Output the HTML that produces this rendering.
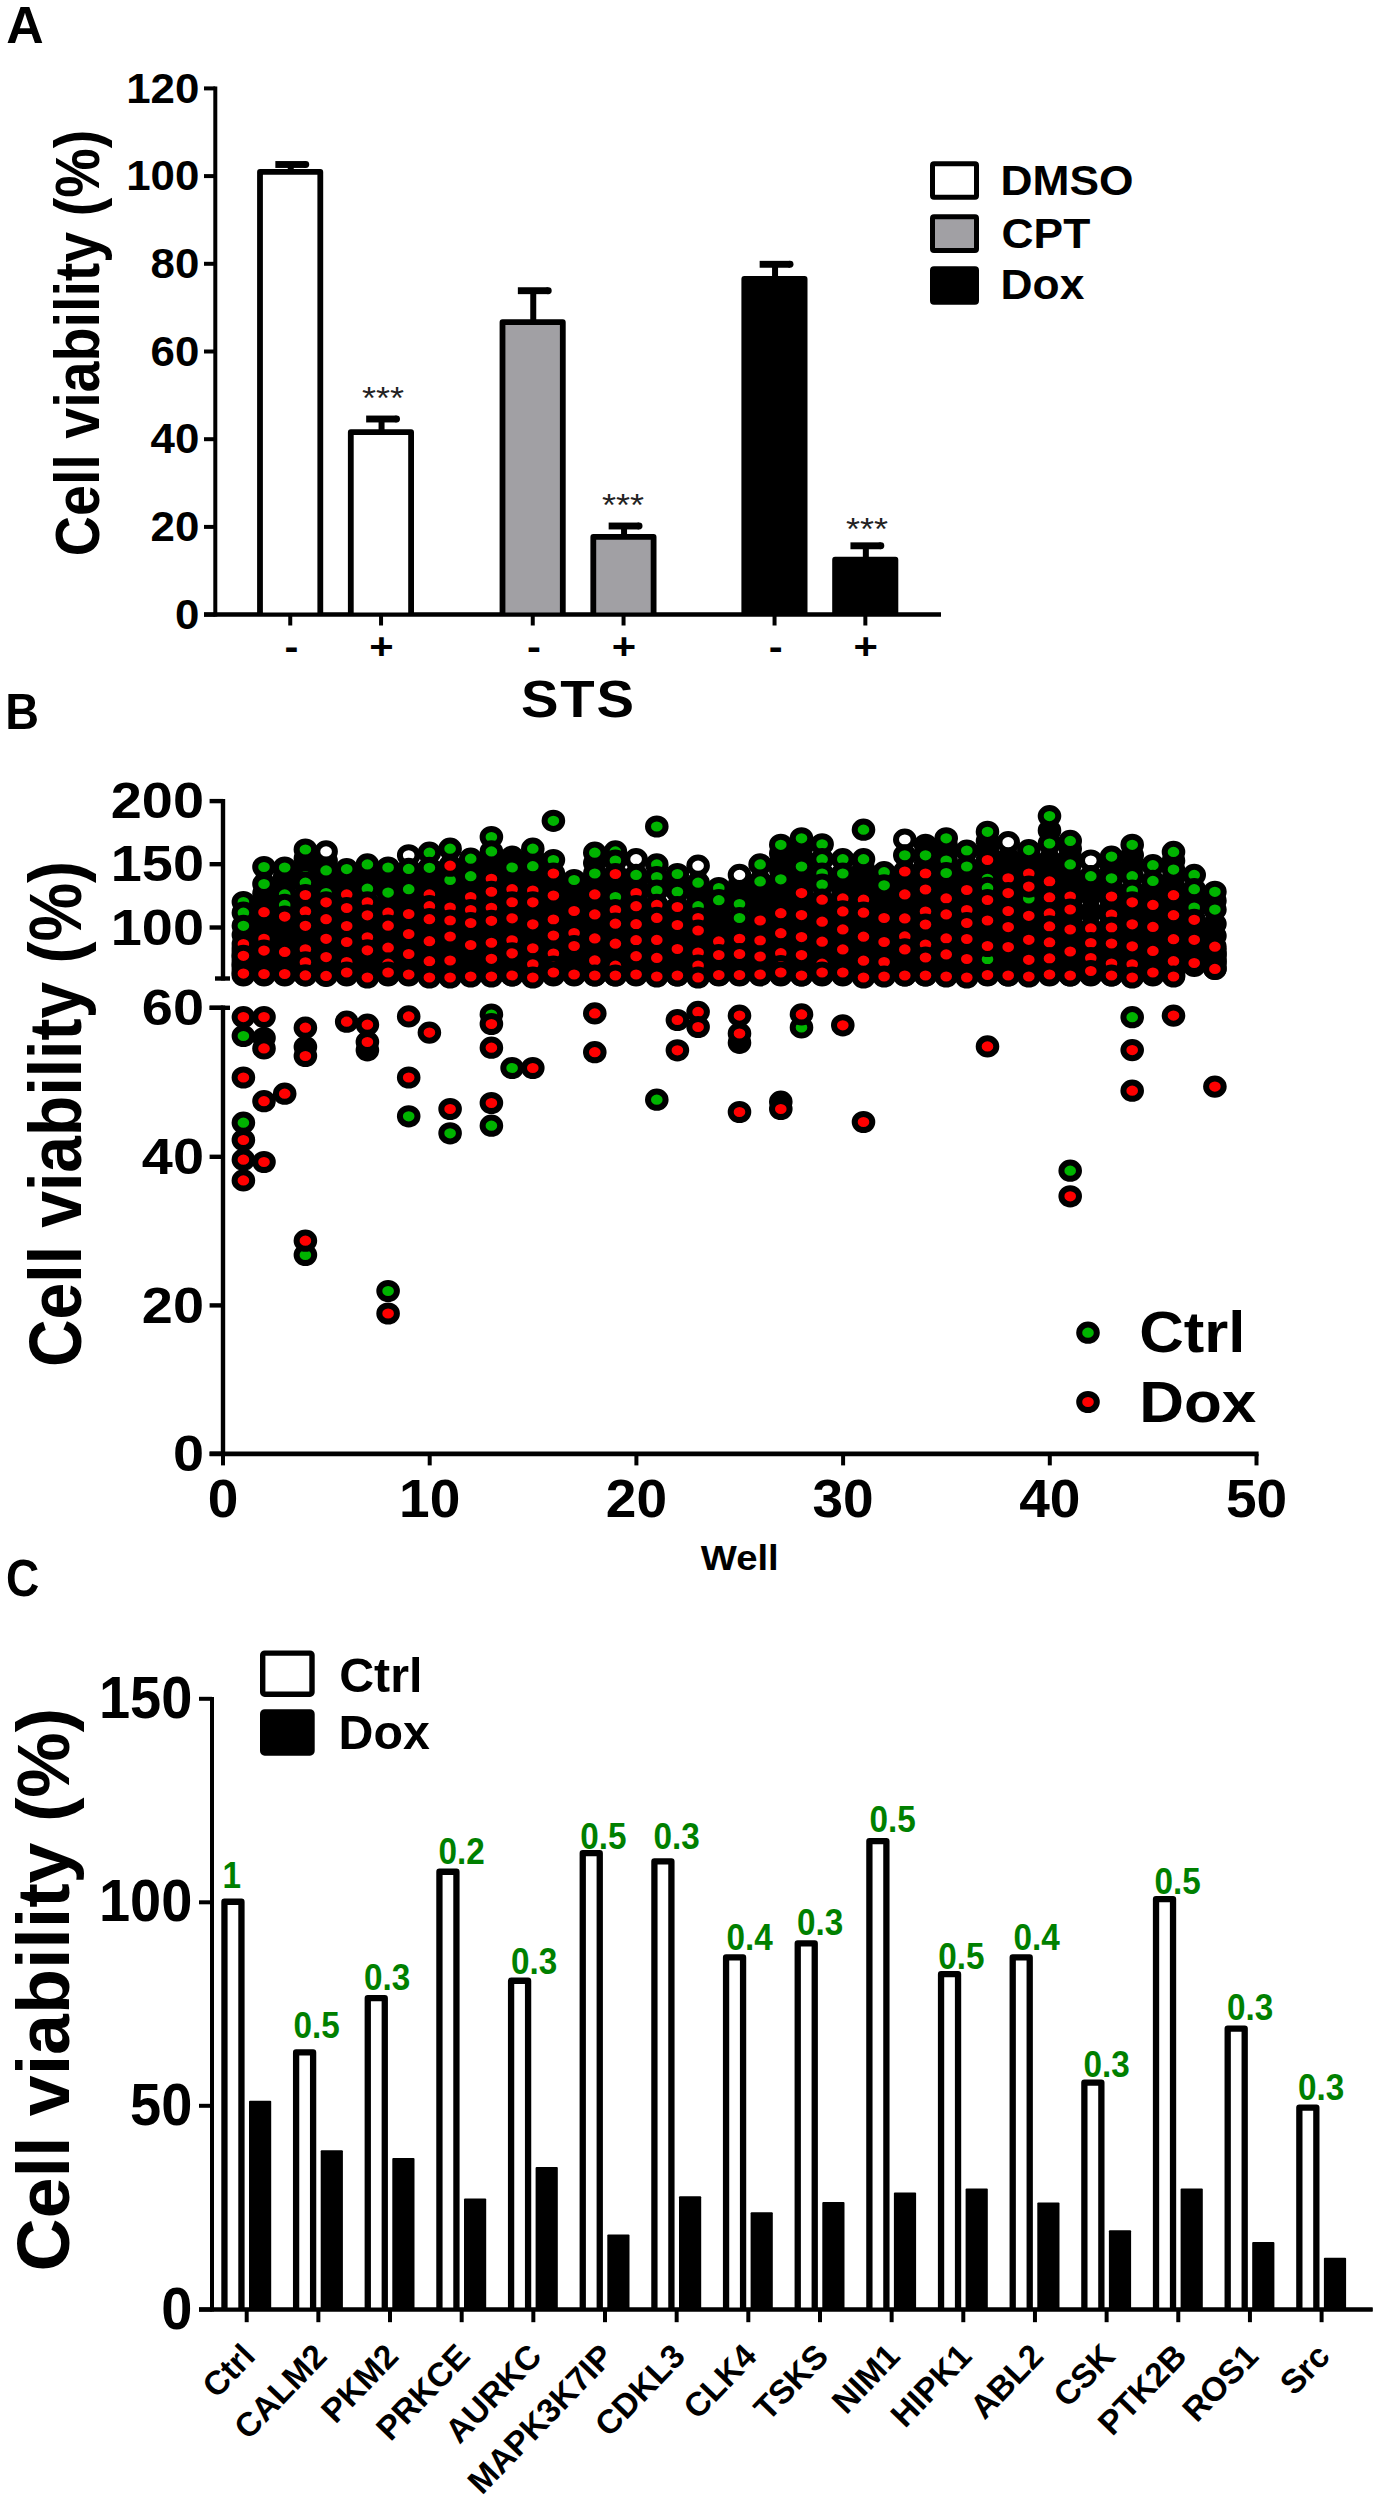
<!DOCTYPE html>
<html><head><meta charset="utf-8"><title>Figure</title>
<style>
html,body{margin:0;padding:0;background:#fff}
svg{display:block}
text{font-family:"Liberation Sans",Arial,sans-serif}
ellipse{rx:8.8px;ry:8.1px;stroke:#000;stroke-width:6px}
.r{fill:#ff0000} .g{fill:#00b400} .h{fill:#fff} .k{fill:#000}
</style></head><body>
<svg width="1379" height="2500" viewBox="0 0 1379 2500">
<rect x="0" y="0" width="1379" height="2500" fill="#fff"/>
<text transform="translate(6.30,42.60) scale(1.0000,1.0000)" font-size="51.8" font-weight="bold" text-anchor="start" fill="#000">A</text>
<text transform="translate(98.6,343.0) rotate(-90) scale(1,1.148)" font-size="55.6" font-weight="bold" text-anchor="middle">Cell viability (%)</text>
<line x1="215.30" y1="86.40" x2="215.30" y2="616.60" stroke="#000" stroke-width="4" stroke-linecap="butt"/>
<line x1="204.00" y1="614.60" x2="941.00" y2="614.60" stroke="#000" stroke-width="4" stroke-linecap="butt"/>
<line x1="204.00" y1="88.40" x2="215.30" y2="88.40" stroke="#000" stroke-width="4" stroke-linecap="butt"/>
<text transform="translate(199.30,102.60) scale(1.0200,1.0000)" font-size="43" font-weight="bold" text-anchor="end" fill="#000">120</text>
<line x1="204.00" y1="176.10" x2="215.30" y2="176.10" stroke="#000" stroke-width="4" stroke-linecap="butt"/>
<text transform="translate(199.30,190.30) scale(1.0200,1.0000)" font-size="43" font-weight="bold" text-anchor="end" fill="#000">100</text>
<line x1="204.00" y1="263.80" x2="215.30" y2="263.80" stroke="#000" stroke-width="4" stroke-linecap="butt"/>
<text transform="translate(199.30,278.00) scale(1.0200,1.0000)" font-size="43" font-weight="bold" text-anchor="end" fill="#000">80</text>
<line x1="204.00" y1="351.50" x2="215.30" y2="351.50" stroke="#000" stroke-width="4" stroke-linecap="butt"/>
<text transform="translate(199.30,365.70) scale(1.0200,1.0000)" font-size="43" font-weight="bold" text-anchor="end" fill="#000">60</text>
<line x1="204.00" y1="439.20" x2="215.30" y2="439.20" stroke="#000" stroke-width="4" stroke-linecap="butt"/>
<text transform="translate(199.30,453.40) scale(1.0200,1.0000)" font-size="43" font-weight="bold" text-anchor="end" fill="#000">40</text>
<line x1="204.00" y1="526.90" x2="215.30" y2="526.90" stroke="#000" stroke-width="4" stroke-linecap="butt"/>
<text transform="translate(199.30,541.10) scale(1.0200,1.0000)" font-size="43" font-weight="bold" text-anchor="end" fill="#000">20</text>
<line x1="204.00" y1="614.60" x2="215.30" y2="614.60" stroke="#000" stroke-width="4" stroke-linecap="butt"/>
<text transform="translate(199.30,628.80) scale(1.0200,1.0000)" font-size="43" font-weight="bold" text-anchor="end" fill="#000">0</text>
<line x1="290.75" y1="164.50" x2="290.75" y2="172.00" stroke="#000" stroke-width="6" stroke-linecap="butt"/>
<line x1="275.35" y1="164.50" x2="305.75" y2="164.50" stroke="#000" stroke-width="6.9" stroke-linecap="butt"/>
<circle cx="305.75" cy="164.50" r="3.45"/>
<path d="M260.00,614.60V171.90H320.30V614.60" fill="#fff" stroke="#000" stroke-width="5.8" stroke-linejoin="round"/>
<line x1="381.55" y1="419.00" x2="381.55" y2="432.30" stroke="#000" stroke-width="6" stroke-linecap="butt"/>
<line x1="366.15" y1="419.00" x2="396.55" y2="419.00" stroke="#000" stroke-width="6.9" stroke-linecap="butt"/>
<circle cx="396.55" cy="419.00" r="3.45"/>
<path d="M350.80,614.60V432.20H411.10V614.60" fill="#fff" stroke="#000" stroke-width="5.8" stroke-linejoin="round"/>
<line x1="533.25" y1="290.70" x2="533.25" y2="322.30" stroke="#000" stroke-width="6" stroke-linecap="butt"/>
<line x1="517.85" y1="290.70" x2="548.25" y2="290.70" stroke="#000" stroke-width="6.9" stroke-linecap="butt"/>
<circle cx="548.25" cy="290.70" r="3.45"/>
<path d="M502.50,614.60V322.20H562.80V614.60" fill="#a1a0a4" stroke="#000" stroke-width="5.8" stroke-linejoin="round"/>
<line x1="624.05" y1="526.00" x2="624.05" y2="537.00" stroke="#000" stroke-width="6" stroke-linecap="butt"/>
<line x1="608.65" y1="526.00" x2="639.05" y2="526.00" stroke="#000" stroke-width="6.9" stroke-linecap="butt"/>
<circle cx="639.05" cy="526.00" r="3.45"/>
<path d="M593.30,614.60V536.90H653.60V614.60" fill="#a1a0a4" stroke="#000" stroke-width="5.8" stroke-linejoin="round"/>
<line x1="775.05" y1="264.30" x2="775.05" y2="279.00" stroke="#000" stroke-width="6" stroke-linecap="butt"/>
<line x1="759.65" y1="264.30" x2="790.05" y2="264.30" stroke="#000" stroke-width="6.9" stroke-linecap="butt"/>
<circle cx="790.05" cy="264.30" r="3.45"/>
<path d="M744.30,614.60V278.90H804.60V614.60" fill="#000" stroke="#000" stroke-width="5.8" stroke-linejoin="round"/>
<line x1="865.85" y1="545.80" x2="865.85" y2="559.80" stroke="#000" stroke-width="6" stroke-linecap="butt"/>
<line x1="850.45" y1="545.80" x2="880.85" y2="545.80" stroke="#000" stroke-width="6.9" stroke-linecap="butt"/>
<circle cx="880.85" cy="545.80" r="3.45"/>
<path d="M835.10,614.60V559.70H895.40V614.60" fill="#000" stroke="#000" stroke-width="5.8" stroke-linejoin="round"/>
<line x1="204.00" y1="614.60" x2="941.00" y2="614.60" stroke="#000" stroke-width="4" stroke-linecap="butt"/>
<line x1="290.25" y1="614.60" x2="290.25" y2="625.50" stroke="#000" stroke-width="4" stroke-linecap="butt"/>
<text transform="translate(291.45,658.80) scale(1.1300,1.0000)" font-size="37" font-weight="bold" text-anchor="middle" fill="#000">-</text>
<line x1="381.05" y1="614.60" x2="381.05" y2="625.50" stroke="#000" stroke-width="4" stroke-linecap="butt"/>
<text transform="translate(381.35,658.80) scale(1.1300,1.0000)" font-size="37" font-weight="bold" text-anchor="middle" fill="#000">+</text>
<line x1="532.75" y1="614.60" x2="532.75" y2="625.50" stroke="#000" stroke-width="4" stroke-linecap="butt"/>
<text transform="translate(533.95,658.80) scale(1.1300,1.0000)" font-size="37" font-weight="bold" text-anchor="middle" fill="#000">-</text>
<line x1="623.55" y1="614.60" x2="623.55" y2="625.50" stroke="#000" stroke-width="4" stroke-linecap="butt"/>
<text transform="translate(623.85,658.80) scale(1.1300,1.0000)" font-size="37" font-weight="bold" text-anchor="middle" fill="#000">+</text>
<line x1="774.55" y1="614.60" x2="774.55" y2="625.50" stroke="#000" stroke-width="4" stroke-linecap="butt"/>
<text transform="translate(775.75,658.80) scale(1.1300,1.0000)" font-size="37" font-weight="bold" text-anchor="middle" fill="#000">-</text>
<line x1="865.35" y1="614.60" x2="865.35" y2="625.50" stroke="#000" stroke-width="4" stroke-linecap="butt"/>
<text transform="translate(865.65,658.80) scale(1.1300,1.0000)" font-size="37" font-weight="bold" text-anchor="middle" fill="#000">+</text>
<text transform="translate(383.00,408.70) scale(1.0000,0.8900)" font-size="36" font-weight="normal" text-anchor="middle" fill="#222">***</text>
<text transform="translate(623.00,515.50) scale(1.0000,0.8900)" font-size="36" font-weight="normal" text-anchor="middle" fill="#222">***</text>
<text transform="translate(867.00,539.70) scale(1.0000,0.8900)" font-size="36" font-weight="normal" text-anchor="middle" fill="#222">***</text>
<text transform="translate(578.4,717.3) scale(1.078,1)" font-size="52.2" font-weight="bold" text-anchor="middle" letter-spacing="1.7">STS</text>
<rect x="932.50" y="163.80" width="44.00" height="33.40" fill="#fff" stroke="#000" stroke-width="5" rx="1.5"/>
<rect x="932.50" y="216.70" width="44.00" height="33.80" fill="#a1a0a4" stroke="#000" stroke-width="5" rx="1.5"/>
<rect x="932.50" y="268.70" width="44.00" height="33.50" fill="#000" stroke="#000" stroke-width="5" rx="1.5"/>
<text transform="translate(1000.60,195.10) scale(1.0510,1.0000)" font-size="42.2" font-weight="bold" text-anchor="start" fill="#000">DMSO</text>
<text transform="translate(1001.60,248.20) scale(1.0510,1.0000)" font-size="42.2" font-weight="bold" text-anchor="start" fill="#000">CPT</text>
<text transform="translate(1000.60,299.40) scale(1.0510,1.0000)" font-size="42.2" font-weight="bold" text-anchor="start" fill="#000">Dox</text>
<text transform="translate(5.30,728.60) scale(0.9300,1.0000)" font-size="50.3" font-weight="bold" text-anchor="start" fill="#000">B</text>
<text transform="translate(81.4,1114) rotate(-90) scale(1,1.118)" font-size="66" font-weight="bold" text-anchor="middle">Cell viability (%)</text>
<line x1="223.00" y1="798.90" x2="223.00" y2="980.60" stroke="#000" stroke-width="4.4" stroke-linecap="butt"/>
<line x1="223.00" y1="1005.60" x2="223.00" y2="1455.80" stroke="#000" stroke-width="4.4" stroke-linecap="butt"/>
<line x1="209.60" y1="1453.80" x2="1258.60" y2="1453.80" stroke="#000" stroke-width="4.8" stroke-linecap="butt"/>
<line x1="215.00" y1="978.50" x2="230.00" y2="978.50" stroke="#000" stroke-width="4.4" stroke-linecap="butt"/>
<line x1="209.60" y1="1007.80" x2="230.00" y2="1007.80" stroke="#000" stroke-width="4.4" stroke-linecap="butt"/>
<line x1="209.60" y1="801.10" x2="223.00" y2="801.10" stroke="#000" stroke-width="4.4" stroke-linecap="butt"/>
<text transform="translate(204.00,818.30) scale(1.1090,1.0000)" font-size="50.4" font-weight="bold" text-anchor="end" fill="#000">200</text>
<line x1="209.60" y1="864.20" x2="223.00" y2="864.20" stroke="#000" stroke-width="4.4" stroke-linecap="butt"/>
<text transform="translate(204.00,881.40) scale(1.1090,1.0000)" font-size="50.4" font-weight="bold" text-anchor="end" fill="#000">150</text>
<line x1="209.60" y1="927.50" x2="223.00" y2="927.50" stroke="#000" stroke-width="4.4" stroke-linecap="butt"/>
<text transform="translate(204.00,944.70) scale(1.1090,1.0000)" font-size="50.4" font-weight="bold" text-anchor="end" fill="#000">100</text>
<line x1="209.60" y1="1007.80" x2="223.00" y2="1007.80" stroke="#000" stroke-width="4.4" stroke-linecap="butt"/>
<text transform="translate(204.00,1025.00) scale(1.1090,1.0000)" font-size="50.4" font-weight="bold" text-anchor="end" fill="#000">60</text>
<line x1="209.60" y1="1156.80" x2="223.00" y2="1156.80" stroke="#000" stroke-width="4.4" stroke-linecap="butt"/>
<text transform="translate(204.00,1174.00) scale(1.1090,1.0000)" font-size="50.4" font-weight="bold" text-anchor="end" fill="#000">40</text>
<line x1="209.60" y1="1305.40" x2="223.00" y2="1305.40" stroke="#000" stroke-width="4.4" stroke-linecap="butt"/>
<text transform="translate(204.00,1322.60) scale(1.1090,1.0000)" font-size="50.4" font-weight="bold" text-anchor="end" fill="#000">20</text>
<line x1="209.60" y1="1453.80" x2="223.00" y2="1453.80" stroke="#000" stroke-width="4.4" stroke-linecap="butt"/>
<text transform="translate(204.00,1471.00) scale(1.1090,1.0000)" font-size="50.4" font-weight="bold" text-anchor="end" fill="#000">0</text>
<line x1="223.00" y1="1453.80" x2="223.00" y2="1465.40" stroke="#000" stroke-width="4" stroke-linecap="butt"/>
<text transform="translate(223.00,1517.40) scale(1.0250,1.0000)" font-size="53.7" font-weight="bold" text-anchor="middle" fill="#000">0</text>
<line x1="429.70" y1="1453.80" x2="429.70" y2="1465.40" stroke="#000" stroke-width="4" stroke-linecap="butt"/>
<text transform="translate(429.70,1517.40) scale(1.0250,1.0000)" font-size="53.7" font-weight="bold" text-anchor="middle" fill="#000">10</text>
<line x1="636.40" y1="1453.80" x2="636.40" y2="1465.40" stroke="#000" stroke-width="4" stroke-linecap="butt"/>
<text transform="translate(636.40,1517.40) scale(1.0250,1.0000)" font-size="53.7" font-weight="bold" text-anchor="middle" fill="#000">20</text>
<line x1="843.10" y1="1453.80" x2="843.10" y2="1465.40" stroke="#000" stroke-width="4" stroke-linecap="butt"/>
<text transform="translate(843.10,1517.40) scale(1.0250,1.0000)" font-size="53.7" font-weight="bold" text-anchor="middle" fill="#000">30</text>
<line x1="1049.80" y1="1453.80" x2="1049.80" y2="1465.40" stroke="#000" stroke-width="4" stroke-linecap="butt"/>
<text transform="translate(1049.80,1517.40) scale(1.0250,1.0000)" font-size="53.7" font-weight="bold" text-anchor="middle" fill="#000">40</text>
<line x1="1256.50" y1="1453.80" x2="1256.50" y2="1465.40" stroke="#000" stroke-width="4" stroke-linecap="butt"/>
<text transform="translate(1256.50,1517.40) scale(1.0250,1.0000)" font-size="53.7" font-weight="bold" text-anchor="middle" fill="#000">50</text>
<text transform="translate(739.70,1570.20) scale(1.0900,1.0000)" font-size="35.1" font-weight="bold" text-anchor="middle" fill="#000">Well</text>
<rect x="235.2" y="896.0" width="16.4" height="58.0"/>
<rect x="231.6" y="937.0" width="23.6" height="49.5" rx="11.8" ry="11"/>
<rect x="255.8" y="861.0" width="16.4" height="61.2"/>
<rect x="252.2" y="905.2" width="23.6" height="81.3" rx="11.8" ry="11"/>
<rect x="276.5" y="861.5" width="16.4" height="65.1"/>
<rect x="272.9" y="909.6" width="23.6" height="76.9" rx="11.8" ry="11"/>
<rect x="297.2" y="843.5" width="16.4" height="61.5"/>
<rect x="293.6" y="888.0" width="23.6" height="98.5" rx="11.8" ry="11"/>
<rect x="317.9" y="845.4" width="16.4" height="66.9"/>
<rect x="314.2" y="895.3" width="23.6" height="91.2" rx="11.8" ry="11"/>
<rect x="338.5" y="863.1" width="16.4" height="41.3"/>
<rect x="334.9" y="887.4" width="23.6" height="99.1" rx="11.8" ry="11"/>
<rect x="359.2" y="858.4" width="16.4" height="53.9"/>
<rect x="355.6" y="895.3" width="23.6" height="91.2" rx="11.8" ry="11"/>
<rect x="379.9" y="861.5" width="16.4" height="61.2"/>
<rect x="376.3" y="905.7" width="23.6" height="80.8" rx="11.8" ry="11"/>
<rect x="400.5" y="849.3" width="16.4" height="74.7"/>
<rect x="396.9" y="907.0" width="23.6" height="79.5" rx="11.8" ry="11"/>
<rect x="421.2" y="846.7" width="16.4" height="57.7"/>
<rect x="417.6" y="887.4" width="23.6" height="99.1" rx="11.8" ry="11"/>
<rect x="441.9" y="842.7" width="16.4" height="33.0"/>
<rect x="438.3" y="858.7" width="23.6" height="127.8" rx="11.8" ry="11"/>
<rect x="462.5" y="852.7" width="16.4" height="54.3"/>
<rect x="458.9" y="890.0" width="23.6" height="96.5" rx="11.8" ry="11"/>
<rect x="483.2" y="831.0" width="16.4" height="57.8"/>
<rect x="479.6" y="871.8" width="23.6" height="114.7" rx="11.8" ry="11"/>
<rect x="503.9" y="850.6" width="16.4" height="48.6"/>
<rect x="500.3" y="882.2" width="23.6" height="104.3" rx="11.8" ry="11"/>
<rect x="524.5" y="842.7" width="16.4" height="57.8"/>
<rect x="521.0" y="883.5" width="23.6" height="103.0" rx="11.8" ry="11"/>
<rect x="545.2" y="854.0" width="16.4" height="29.5"/>
<rect x="541.6" y="866.5" width="23.6" height="120.0" rx="11.8" ry="11"/>
<rect x="565.9" y="874.0" width="16.4" height="47.0"/>
<rect x="562.3" y="904.0" width="23.6" height="82.5" rx="11.8" ry="11"/>
<rect x="586.6" y="846.7" width="16.4" height="57.7"/>
<rect x="583.0" y="887.4" width="23.6" height="99.1" rx="11.8" ry="11"/>
<rect x="607.2" y="845.4" width="16.4" height="38.6"/>
<rect x="603.6" y="867.0" width="23.6" height="119.5" rx="11.8" ry="11"/>
<rect x="627.9" y="853.2" width="16.4" height="49.9"/>
<rect x="624.3" y="886.1" width="23.6" height="100.4" rx="11.8" ry="11"/>
<rect x="648.6" y="858.4" width="16.4" height="56.5"/>
<rect x="645.0" y="897.9" width="23.6" height="88.6" rx="11.8" ry="11"/>
<rect x="669.2" y="868.0" width="16.4" height="49.0"/>
<rect x="665.6" y="900.0" width="23.6" height="86.5" rx="11.8" ry="11"/>
<rect x="689.9" y="859.7" width="16.4" height="68.3"/>
<rect x="686.3" y="911.0" width="23.6" height="75.5" rx="11.8" ry="11"/>
<rect x="710.6" y="882.0" width="16.4" height="69.4"/>
<rect x="707.0" y="934.4" width="23.6" height="52.1" rx="11.8" ry="11"/>
<rect x="731.2" y="868.9" width="16.4" height="79.9"/>
<rect x="727.7" y="931.8" width="23.6" height="54.7" rx="11.8" ry="11"/>
<rect x="751.9" y="858.4" width="16.4" height="72.1"/>
<rect x="748.3" y="913.5" width="23.6" height="73.0" rx="11.8" ry="11"/>
<rect x="772.6" y="838.8" width="16.4" height="84.4"/>
<rect x="769.0" y="906.2" width="23.6" height="80.3" rx="11.8" ry="11"/>
<rect x="793.3" y="832.3" width="16.4" height="70.8"/>
<rect x="789.7" y="886.1" width="23.6" height="100.4" rx="11.8" ry="11"/>
<rect x="813.9" y="838.3" width="16.4" height="71.4"/>
<rect x="810.3" y="892.7" width="23.6" height="93.8" rx="11.8" ry="11"/>
<rect x="834.6" y="853.2" width="16.4" height="55.2"/>
<rect x="831.0" y="891.4" width="23.6" height="95.1" rx="11.8" ry="11"/>
<rect x="855.3" y="853.2" width="16.4" height="56.5"/>
<rect x="851.7" y="892.7" width="23.6" height="93.8" rx="11.8" ry="11"/>
<rect x="875.9" y="866.2" width="16.4" height="61.8"/>
<rect x="872.3" y="911.0" width="23.6" height="75.5" rx="11.8" ry="11"/>
<rect x="896.6" y="833.6" width="16.4" height="47.9"/>
<rect x="893.0" y="864.5" width="23.6" height="122.0" rx="11.8" ry="11"/>
<rect x="917.3" y="838.8" width="16.4" height="44.7"/>
<rect x="913.7" y="866.5" width="23.6" height="120.0" rx="11.8" ry="11"/>
<rect x="938.0" y="832.3" width="16.4" height="76.1"/>
<rect x="934.4" y="891.4" width="23.6" height="95.1" rx="11.8" ry="11"/>
<rect x="958.6" y="844.6" width="16.4" height="55.4"/>
<rect x="955.0" y="883.0" width="23.6" height="103.5" rx="11.8" ry="11"/>
<rect x="979.3" y="825.8" width="16.4" height="44.2"/>
<rect x="975.7" y="853.0" width="23.6" height="133.5" rx="11.8" ry="11"/>
<rect x="1000.0" y="836.2" width="16.4" height="52.1"/>
<rect x="996.4" y="871.3" width="23.6" height="115.2" rx="11.8" ry="11"/>
<rect x="1020.6" y="844.1" width="16.4" height="39.4"/>
<rect x="1017.0" y="866.5" width="23.6" height="120.0" rx="11.8" ry="11"/>
<rect x="1041.3" y="810.1" width="16.4" height="81.3"/>
<rect x="1037.7" y="874.4" width="23.6" height="112.1" rx="11.8" ry="11"/>
<rect x="1062.0" y="834.9" width="16.4" height="71.6"/>
<rect x="1058.4" y="889.5" width="23.6" height="97.0" rx="11.8" ry="11"/>
<rect x="1082.6" y="854.5" width="16.4" height="83.9"/>
<rect x="1079.0" y="921.4" width="23.6" height="65.1" rx="11.8" ry="11"/>
<rect x="1103.3" y="850.6" width="16.4" height="55.9"/>
<rect x="1099.7" y="889.5" width="23.6" height="97.0" rx="11.8" ry="11"/>
<rect x="1124.0" y="838.8" width="16.4" height="73.5"/>
<rect x="1120.4" y="895.3" width="23.6" height="91.2" rx="11.8" ry="11"/>
<rect x="1144.7" y="859.2" width="16.4" height="55.7"/>
<rect x="1141.1" y="897.9" width="23.6" height="88.6" rx="11.8" ry="11"/>
<rect x="1165.3" y="845.9" width="16.4" height="59.3"/>
<rect x="1161.7" y="888.2" width="23.6" height="98.3" rx="11.8" ry="11"/>
<rect x="1186.0" y="868.9" width="16.4" height="60.9"/>
<rect x="1182.4" y="912.8" width="23.6" height="64.2" rx="11.8" ry="11"/>
<rect x="1206.7" y="885.8" width="16.4" height="70.9"/>
<rect x="1203.1" y="939.7" width="23.6" height="40.3" rx="11.8" ry="11"/>
<ellipse class="k" cx="243.4" cy="934.9" rx="8.8" ry="8.1"/>
<ellipse class="k" cx="243.4" cy="964.7" rx="8.8" ry="8.1"/>
<ellipse class="k" cx="264.0" cy="893.4" rx="8.8" ry="8.1"/>
<ellipse class="k" cx="264.0" cy="902.8" rx="8.8" ry="8.1"/>
<ellipse class="k" cx="264.0" cy="921.1" rx="8.8" ry="8.1"/>
<ellipse class="k" cx="264.0" cy="929.9" rx="8.8" ry="8.1"/>
<ellipse class="k" cx="264.0" cy="958.4" rx="8.8" ry="8.1"/>
<ellipse class="k" cx="264.0" cy="966.2" rx="8.8" ry="8.1"/>
<ellipse class="k" cx="284.7" cy="876.5" rx="8.8" ry="8.1"/>
<ellipse class="k" cx="284.7" cy="885.4" rx="8.8" ry="8.1"/>
<ellipse class="k" cx="284.7" cy="925.4" rx="8.8" ry="8.1"/>
<ellipse class="k" cx="284.7" cy="934.2" rx="8.8" ry="8.1"/>
<ellipse class="k" cx="284.7" cy="943.1" rx="8.8" ry="8.1"/>
<ellipse class="k" cx="284.7" cy="959.3" rx="8.8" ry="8.1"/>
<ellipse class="k" cx="284.7" cy="966.6" rx="8.8" ry="8.1"/>
<ellipse class="k" cx="305.4" cy="858.4" rx="8.8" ry="8.1"/>
<ellipse class="k" cx="305.4" cy="867.3" rx="8.8" ry="8.1"/>
<ellipse class="k" cx="305.4" cy="933.6" rx="8.8" ry="8.1"/>
<ellipse class="k" cx="305.4" cy="941.5" rx="8.8" ry="8.1"/>
<ellipse class="k" cx="326.1" cy="860.9" rx="8.8" ry="8.1"/>
<ellipse class="k" cx="326.1" cy="878.0" rx="8.8" ry="8.1"/>
<ellipse class="k" cx="326.1" cy="885.5" rx="8.8" ry="8.1"/>
<ellipse class="k" cx="326.1" cy="929.0" rx="8.8" ry="8.1"/>
<ellipse class="k" cx="326.1" cy="948.0" rx="8.8" ry="8.1"/>
<ellipse class="k" cx="326.1" cy="966.5" rx="8.8" ry="8.1"/>
<ellipse class="k" cx="346.7" cy="877.5" rx="8.8" ry="8.1"/>
<ellipse class="k" cx="346.7" cy="886.0" rx="8.8" ry="8.1"/>
<ellipse class="k" cx="367.4" cy="872.5" rx="8.8" ry="8.1"/>
<ellipse class="k" cx="367.4" cy="880.6" rx="8.8" ry="8.1"/>
<ellipse class="k" cx="388.1" cy="875.9" rx="8.8" ry="8.1"/>
<ellipse class="k" cx="388.1" cy="884.2" rx="8.8" ry="8.1"/>
<ellipse class="k" cx="388.1" cy="902.7" rx="8.8" ry="8.1"/>
<ellipse class="k" cx="408.7" cy="879.0" rx="8.8" ry="8.1"/>
<ellipse class="k" cx="408.7" cy="897.5" rx="8.8" ry="8.1"/>
<ellipse class="k" cx="408.7" cy="905.7" rx="8.8" ry="8.1"/>
<ellipse class="k" cx="429.4" cy="876.7" rx="8.8" ry="8.1"/>
<ellipse class="k" cx="429.4" cy="885.5" rx="8.8" ry="8.1"/>
<ellipse class="k" cx="450.1" cy="889.2" rx="8.8" ry="8.1"/>
<ellipse class="k" cx="450.1" cy="898.3" rx="8.8" ry="8.1"/>
<ellipse class="k" cx="470.7" cy="867.5" rx="8.8" ry="8.1"/>
<ellipse class="k" cx="470.7" cy="886.6" rx="8.8" ry="8.1"/>
<ellipse class="k" cx="491.4" cy="860.5" rx="8.8" ry="8.1"/>
<ellipse class="k" cx="491.4" cy="869.7" rx="8.8" ry="8.1"/>
<ellipse class="k" cx="512.1" cy="856.6" rx="8.8" ry="8.1"/>
<ellipse class="k" cx="512.1" cy="878.4" rx="8.8" ry="8.1"/>
<ellipse class="k" cx="532.8" cy="857.5" rx="8.8" ry="8.1"/>
<ellipse class="k" cx="532.8" cy="874.3" rx="8.8" ry="8.1"/>
<ellipse class="k" cx="532.8" cy="882.4" rx="8.8" ry="8.1"/>
<ellipse class="k" cx="574.1" cy="890.3" rx="8.8" ry="8.1"/>
<ellipse class="k" cx="574.1" cy="900.7" rx="8.8" ry="8.1"/>
<ellipse class="k" cx="594.8" cy="863.1" rx="8.8" ry="8.1"/>
<ellipse class="k" cx="594.8" cy="884.0" rx="8.8" ry="8.1"/>
<ellipse class="k" cx="615.4" cy="881.7" rx="8.8" ry="8.1"/>
<ellipse class="k" cx="615.4" cy="889.3" rx="8.8" ry="8.1"/>
<ellipse class="k" cx="636.1" cy="884.0" rx="8.8" ry="8.1"/>
<ellipse class="k" cx="677.4" cy="882.9" rx="8.8" ry="8.1"/>
<ellipse class="k" cx="698.1" cy="890.5" rx="8.8" ry="8.1"/>
<ellipse class="k" cx="698.1" cy="898.4" rx="8.8" ry="8.1"/>
<ellipse class="k" cx="718.8" cy="910.5" rx="8.8" ry="8.1"/>
<ellipse class="k" cx="718.8" cy="920.8" rx="8.8" ry="8.1"/>
<ellipse class="k" cx="718.8" cy="931.1" rx="8.8" ry="8.1"/>
<ellipse class="k" cx="718.8" cy="965.0" rx="8.8" ry="8.1"/>
<ellipse class="k" cx="739.5" cy="884.6" rx="8.8" ry="8.1"/>
<ellipse class="k" cx="739.5" cy="894.3" rx="8.8" ry="8.1"/>
<ellipse class="k" cx="739.5" cy="928.4" rx="8.8" ry="8.1"/>
<ellipse class="k" cx="739.5" cy="964.5" rx="8.8" ry="8.1"/>
<ellipse class="k" cx="760.1" cy="891.2" rx="8.8" ry="8.1"/>
<ellipse class="k" cx="760.1" cy="901.0" rx="8.8" ry="8.1"/>
<ellipse class="k" cx="760.1" cy="910.7" rx="8.8" ry="8.1"/>
<ellipse class="k" cx="780.8" cy="853.4" rx="8.8" ry="8.1"/>
<ellipse class="k" cx="780.8" cy="862.0" rx="8.8" ry="8.1"/>
<ellipse class="k" cx="780.8" cy="870.7" rx="8.8" ry="8.1"/>
<ellipse class="k" cx="780.8" cy="887.8" rx="8.8" ry="8.1"/>
<ellipse class="k" cx="780.8" cy="896.2" rx="8.8" ry="8.1"/>
<ellipse class="k" cx="780.8" cy="904.7" rx="8.8" ry="8.1"/>
<ellipse class="k" cx="801.5" cy="847.7" rx="8.8" ry="8.1"/>
<ellipse class="k" cx="801.5" cy="857.1" rx="8.8" ry="8.1"/>
<ellipse class="k" cx="801.5" cy="875.4" rx="8.8" ry="8.1"/>
<ellipse class="k" cx="801.5" cy="884.2" rx="8.8" ry="8.1"/>
<ellipse class="k" cx="842.8" cy="881.8" rx="8.8" ry="8.1"/>
<ellipse class="k" cx="842.8" cy="890.1" rx="8.8" ry="8.1"/>
<ellipse class="k" cx="863.5" cy="869.3" rx="8.8" ry="8.1"/>
<ellipse class="k" cx="863.5" cy="879.5" rx="8.8" ry="8.1"/>
<ellipse class="k" cx="863.5" cy="889.6" rx="8.8" ry="8.1"/>
<ellipse class="k" cx="884.1" cy="896.2" rx="8.8" ry="8.1"/>
<ellipse class="k" cx="884.1" cy="907.1" rx="8.8" ry="8.1"/>
<ellipse class="k" cx="904.8" cy="879.1" rx="8.8" ry="8.1"/>
<ellipse class="k" cx="904.8" cy="886.8" rx="8.8" ry="8.1"/>
<ellipse class="k" cx="925.5" cy="844.8" rx="8.8" ry="8.1"/>
<ellipse class="k" cx="925.5" cy="864.4" rx="8.8" ry="8.1"/>
<ellipse class="k" cx="946.2" cy="845.7" rx="8.8" ry="8.1"/>
<ellipse class="k" cx="946.2" cy="853.1" rx="8.8" ry="8.1"/>
<ellipse class="k" cx="946.2" cy="881.5" rx="8.8" ry="8.1"/>
<ellipse class="k" cx="946.2" cy="889.9" rx="8.8" ry="8.1"/>
<ellipse class="k" cx="966.8" cy="874.3" rx="8.8" ry="8.1"/>
<ellipse class="k" cx="966.8" cy="882.2" rx="8.8" ry="8.1"/>
<ellipse class="k" cx="987.5" cy="841.2" rx="8.8" ry="8.1"/>
<ellipse class="k" cx="987.5" cy="850.6" rx="8.8" ry="8.1"/>
<ellipse class="k" cx="987.5" cy="869.4" rx="8.8" ry="8.1"/>
<ellipse class="k" cx="987.5" cy="910.2" rx="8.8" ry="8.1"/>
<ellipse class="k" cx="987.5" cy="929.0" rx="8.8" ry="8.1"/>
<ellipse class="k" cx="987.5" cy="937.5" rx="8.8" ry="8.1"/>
<ellipse class="k" cx="1008.2" cy="858.0" rx="8.8" ry="8.1"/>
<ellipse class="k" cx="1008.2" cy="868.1" rx="8.8" ry="8.1"/>
<ellipse class="k" cx="1028.8" cy="857.9" rx="8.8" ry="8.1"/>
<ellipse class="k" cx="1028.8" cy="865.7" rx="8.8" ry="8.1"/>
<ellipse class="k" cx="1028.8" cy="907.1" rx="8.8" ry="8.1"/>
<ellipse class="k" cx="1049.5" cy="830.5" rx="8.8" ry="8.1"/>
<ellipse class="k" cx="1049.5" cy="860.0" rx="8.8" ry="8.1"/>
<ellipse class="k" cx="1049.5" cy="870.7" rx="8.8" ry="8.1"/>
<ellipse class="k" cx="1070.2" cy="848.7" rx="8.8" ry="8.1"/>
<ellipse class="k" cx="1070.2" cy="856.6" rx="8.8" ry="8.1"/>
<ellipse class="k" cx="1070.2" cy="875.1" rx="8.8" ry="8.1"/>
<ellipse class="k" cx="1070.2" cy="885.8" rx="8.8" ry="8.1"/>
<ellipse class="k" cx="1090.8" cy="895.0" rx="8.8" ry="8.1"/>
<ellipse class="k" cx="1090.8" cy="912.0" rx="8.8" ry="8.1"/>
<ellipse class="k" cx="1090.8" cy="885.6" rx="8.8" ry="8.1"/>
<ellipse class="k" cx="1111.5" cy="867.5" rx="8.8" ry="8.1"/>
<ellipse class="k" cx="1111.5" cy="887.4" rx="8.8" ry="8.1"/>
<ellipse class="k" cx="1132.2" cy="855.3" rx="8.8" ry="8.1"/>
<ellipse class="k" cx="1132.2" cy="865.7" rx="8.8" ry="8.1"/>
<ellipse class="k" cx="1152.9" cy="888.9" rx="8.8" ry="8.1"/>
<ellipse class="k" cx="1152.9" cy="896.9" rx="8.8" ry="8.1"/>
<ellipse class="k" cx="1173.5" cy="860.8" rx="8.8" ry="8.1"/>
<ellipse class="k" cx="1173.5" cy="878.1" rx="8.8" ry="8.1"/>
<ellipse class="k" cx="1173.5" cy="886.7" rx="8.8" ry="8.1"/>
<ellipse class="k" cx="1194.2" cy="898.4" rx="8.8" ry="8.1"/>
<ellipse class="k" cx="1214.9" cy="924.0" rx="8.8" ry="8.1"/>
<ellipse class="k" cx="1214.9" cy="936.0" rx="8.8" ry="8.1"/>
<ellipse class="k" cx="1214.9" cy="900.7" rx="8.8" ry="8.1"/>
<ellipse class="k" cx="1214.9" cy="954.1" rx="8.8" ry="8.1"/>
<ellipse class="k" cx="1214.9" cy="961.5" rx="8.8" ry="8.1"/>
<ellipse class="k" cx="264.0" cy="1038.0" rx="8.8" ry="8.1"/>
<ellipse class="k" cx="305.4" cy="1047.0" rx="8.8" ry="8.1"/>
<ellipse class="k" cx="367.4" cy="1050.3" rx="8.8" ry="8.1"/>
<ellipse class="k" cx="739.5" cy="1042.8" rx="8.8" ry="8.1"/>
<ellipse class="k" cx="780.8" cy="1101.7" rx="8.8" ry="8.1"/>
<ellipse class="h" cx="326.1" cy="851.4" rx="8.8" ry="8.1"/>
<ellipse class="h" cx="408.7" cy="855.3" rx="8.8" ry="8.1"/>
<ellipse class="h" cx="636.1" cy="859.2" rx="8.8" ry="8.1"/>
<ellipse class="h" cx="698.1" cy="865.7" rx="8.8" ry="8.1"/>
<ellipse class="h" cx="739.5" cy="874.9" rx="8.8" ry="8.1"/>
<ellipse class="h" cx="904.8" cy="839.6" rx="8.8" ry="8.1"/>
<ellipse class="h" cx="1008.2" cy="842.2" rx="8.8" ry="8.1"/>
<ellipse class="h" cx="1090.8" cy="860.5" rx="8.8" ry="8.1"/>
<ellipse class="g" cx="243.4" cy="902.0" rx="8.8" ry="8.1"/>
<ellipse class="g" cx="243.4" cy="912.7" rx="8.8" ry="8.1"/>
<ellipse class="g" cx="243.4" cy="925.8" rx="8.8" ry="8.1"/>
<ellipse class="g" cx="264.0" cy="867.0" rx="8.8" ry="8.1"/>
<ellipse class="g" cx="264.0" cy="884.0" rx="8.8" ry="8.1"/>
<ellipse class="g" cx="284.7" cy="867.5" rx="8.8" ry="8.1"/>
<ellipse class="g" cx="284.7" cy="894.4" rx="8.8" ry="8.1"/>
<ellipse class="g" cx="284.7" cy="904.9" rx="8.8" ry="8.1"/>
<ellipse class="g" cx="305.4" cy="849.5" rx="8.8" ry="8.1"/>
<ellipse class="g" cx="305.4" cy="876.2" rx="8.8" ry="8.1"/>
<ellipse class="g" cx="305.4" cy="882.7" rx="8.8" ry="8.1"/>
<ellipse class="g" cx="326.1" cy="870.4" rx="8.8" ry="8.1"/>
<ellipse class="g" cx="326.1" cy="893.1" rx="8.8" ry="8.1"/>
<ellipse class="g" cx="346.7" cy="869.1" rx="8.8" ry="8.1"/>
<ellipse class="g" cx="367.4" cy="864.4" rx="8.8" ry="8.1"/>
<ellipse class="g" cx="367.4" cy="888.7" rx="8.8" ry="8.1"/>
<ellipse class="g" cx="388.1" cy="867.5" rx="8.8" ry="8.1"/>
<ellipse class="g" cx="388.1" cy="892.6" rx="8.8" ry="8.1"/>
<ellipse class="g" cx="408.7" cy="868.9" rx="8.8" ry="8.1"/>
<ellipse class="g" cx="408.7" cy="889.2" rx="8.8" ry="8.1"/>
<ellipse class="g" cx="429.4" cy="852.7" rx="8.8" ry="8.1"/>
<ellipse class="g" cx="429.4" cy="867.8" rx="8.8" ry="8.1"/>
<ellipse class="g" cx="450.1" cy="848.7" rx="8.8" ry="8.1"/>
<ellipse class="g" cx="450.1" cy="880.0" rx="8.8" ry="8.1"/>
<ellipse class="g" cx="470.7" cy="858.7" rx="8.8" ry="8.1"/>
<ellipse class="g" cx="470.7" cy="876.2" rx="8.8" ry="8.1"/>
<ellipse class="g" cx="491.4" cy="837.0" rx="8.8" ry="8.1"/>
<ellipse class="g" cx="491.4" cy="851.4" rx="8.8" ry="8.1"/>
<ellipse class="g" cx="512.1" cy="867.5" rx="8.8" ry="8.1"/>
<ellipse class="g" cx="532.8" cy="848.7" rx="8.8" ry="8.1"/>
<ellipse class="g" cx="532.8" cy="866.2" rx="8.8" ry="8.1"/>
<ellipse class="g" cx="553.4" cy="820.8" rx="8.8" ry="8.1"/>
<ellipse class="g" cx="553.4" cy="860.0" rx="8.8" ry="8.1"/>
<ellipse class="g" cx="574.1" cy="880.0" rx="8.8" ry="8.1"/>
<ellipse class="g" cx="594.8" cy="852.7" rx="8.8" ry="8.1"/>
<ellipse class="g" cx="594.8" cy="873.5" rx="8.8" ry="8.1"/>
<ellipse class="g" cx="615.4" cy="851.4" rx="8.8" ry="8.1"/>
<ellipse class="g" cx="615.4" cy="860.5" rx="8.8" ry="8.1"/>
<ellipse class="g" cx="615.4" cy="897.0" rx="8.8" ry="8.1"/>
<ellipse class="g" cx="636.1" cy="874.9" rx="8.8" ry="8.1"/>
<ellipse class="g" cx="656.8" cy="826.5" rx="8.8" ry="8.1"/>
<ellipse class="g" cx="656.8" cy="864.4" rx="8.8" ry="8.1"/>
<ellipse class="g" cx="656.8" cy="877.0" rx="8.8" ry="8.1"/>
<ellipse class="g" cx="656.8" cy="890.5" rx="8.8" ry="8.1"/>
<ellipse class="g" cx="677.4" cy="874.0" rx="8.8" ry="8.1"/>
<ellipse class="g" cx="677.4" cy="891.8" rx="8.8" ry="8.1"/>
<ellipse class="g" cx="698.1" cy="882.7" rx="8.8" ry="8.1"/>
<ellipse class="g" cx="698.1" cy="906.2" rx="8.8" ry="8.1"/>
<ellipse class="g" cx="718.8" cy="888.0" rx="8.8" ry="8.1"/>
<ellipse class="g" cx="718.8" cy="900.2" rx="8.8" ry="8.1"/>
<ellipse class="g" cx="739.5" cy="904.0" rx="8.8" ry="8.1"/>
<ellipse class="g" cx="739.5" cy="918.0" rx="8.8" ry="8.1"/>
<ellipse class="g" cx="760.1" cy="864.4" rx="8.8" ry="8.1"/>
<ellipse class="g" cx="760.1" cy="881.4" rx="8.8" ry="8.1"/>
<ellipse class="g" cx="780.8" cy="844.8" rx="8.8" ry="8.1"/>
<ellipse class="g" cx="780.8" cy="879.3" rx="8.8" ry="8.1"/>
<ellipse class="g" cx="801.5" cy="838.3" rx="8.8" ry="8.1"/>
<ellipse class="g" cx="801.5" cy="866.5" rx="8.8" ry="8.1"/>
<ellipse class="g" cx="822.1" cy="844.3" rx="8.8" ry="8.1"/>
<ellipse class="g" cx="822.1" cy="859.2" rx="8.8" ry="8.1"/>
<ellipse class="g" cx="822.1" cy="873.5" rx="8.8" ry="8.1"/>
<ellipse class="g" cx="822.1" cy="884.5" rx="8.8" ry="8.1"/>
<ellipse class="g" cx="842.8" cy="859.2" rx="8.8" ry="8.1"/>
<ellipse class="g" cx="842.8" cy="873.5" rx="8.8" ry="8.1"/>
<ellipse class="g" cx="863.5" cy="829.7" rx="8.8" ry="8.1"/>
<ellipse class="g" cx="863.5" cy="859.2" rx="8.8" ry="8.1"/>
<ellipse class="g" cx="884.1" cy="872.2" rx="8.8" ry="8.1"/>
<ellipse class="g" cx="884.1" cy="885.3" rx="8.8" ry="8.1"/>
<ellipse class="g" cx="904.8" cy="855.3" rx="8.8" ry="8.1"/>
<ellipse class="g" cx="925.5" cy="855.3" rx="8.8" ry="8.1"/>
<ellipse class="g" cx="946.2" cy="838.3" rx="8.8" ry="8.1"/>
<ellipse class="g" cx="946.2" cy="860.5" rx="8.8" ry="8.1"/>
<ellipse class="g" cx="946.2" cy="873.0" rx="8.8" ry="8.1"/>
<ellipse class="g" cx="966.8" cy="850.6" rx="8.8" ry="8.1"/>
<ellipse class="g" cx="966.8" cy="866.5" rx="8.8" ry="8.1"/>
<ellipse class="g" cx="987.5" cy="831.8" rx="8.8" ry="8.1"/>
<ellipse class="g" cx="987.5" cy="878.8" rx="8.8" ry="8.1"/>
<ellipse class="g" cx="987.5" cy="887.9" rx="8.8" ry="8.1"/>
<ellipse class="g" cx="987.5" cy="959.2" rx="8.8" ry="8.1"/>
<ellipse class="g" cx="1028.8" cy="850.1" rx="8.8" ry="8.1"/>
<ellipse class="g" cx="1028.8" cy="898.4" rx="8.8" ry="8.1"/>
<ellipse class="g" cx="1049.5" cy="816.1" rx="8.8" ry="8.1"/>
<ellipse class="g" cx="1049.5" cy="843.5" rx="8.8" ry="8.1"/>
<ellipse class="g" cx="1070.2" cy="840.9" rx="8.8" ry="8.1"/>
<ellipse class="g" cx="1070.2" cy="864.4" rx="8.8" ry="8.1"/>
<ellipse class="g" cx="1090.8" cy="876.2" rx="8.8" ry="8.1"/>
<ellipse class="g" cx="1111.5" cy="856.6" rx="8.8" ry="8.1"/>
<ellipse class="g" cx="1111.5" cy="878.3" rx="8.8" ry="8.1"/>
<ellipse class="g" cx="1132.2" cy="844.8" rx="8.8" ry="8.1"/>
<ellipse class="g" cx="1132.2" cy="876.2" rx="8.8" ry="8.1"/>
<ellipse class="g" cx="1132.2" cy="890.5" rx="8.8" ry="8.1"/>
<ellipse class="g" cx="1152.9" cy="865.2" rx="8.8" ry="8.1"/>
<ellipse class="g" cx="1152.9" cy="880.9" rx="8.8" ry="8.1"/>
<ellipse class="g" cx="1173.5" cy="851.9" rx="8.8" ry="8.1"/>
<ellipse class="g" cx="1173.5" cy="869.6" rx="8.8" ry="8.1"/>
<ellipse class="g" cx="1194.2" cy="874.9" rx="8.8" ry="8.1"/>
<ellipse class="g" cx="1194.2" cy="889.2" rx="8.8" ry="8.1"/>
<ellipse class="g" cx="1194.2" cy="907.5" rx="8.8" ry="8.1"/>
<ellipse class="g" cx="1214.9" cy="891.8" rx="8.8" ry="8.1"/>
<ellipse class="g" cx="1214.9" cy="909.6" rx="8.8" ry="8.1"/>
<ellipse class="g" cx="243.4" cy="1036.0" rx="8.8" ry="8.1"/>
<ellipse class="g" cx="243.4" cy="1122.7" rx="8.8" ry="8.1"/>
<ellipse class="g" cx="305.4" cy="1255.0" rx="8.8" ry="8.1"/>
<ellipse class="g" cx="388.1" cy="1291.0" rx="8.8" ry="8.1"/>
<ellipse class="g" cx="408.7" cy="1116.3" rx="8.8" ry="8.1"/>
<ellipse class="g" cx="450.1" cy="1133.3" rx="8.8" ry="8.1"/>
<ellipse class="g" cx="491.4" cy="1014.5" rx="8.8" ry="8.1"/>
<ellipse class="g" cx="491.4" cy="1125.7" rx="8.8" ry="8.1"/>
<ellipse class="g" cx="512.1" cy="1068.0" rx="8.8" ry="8.1"/>
<ellipse class="g" cx="656.8" cy="1099.7" rx="8.8" ry="8.1"/>
<ellipse class="g" cx="801.5" cy="1027.4" rx="8.8" ry="8.1"/>
<ellipse class="g" cx="1070.2" cy="1170.7" rx="8.8" ry="8.1"/>
<ellipse class="g" cx="1132.2" cy="1017.2" rx="8.8" ry="8.1"/>
<ellipse class="r" cx="243.4" cy="944.0" rx="8.8" ry="8.1"/>
<ellipse class="r" cx="243.4" cy="955.8" rx="8.8" ry="8.1"/>
<ellipse class="r" cx="243.4" cy="973.6" rx="8.8" ry="8.1"/>
<ellipse class="r" cx="264.0" cy="912.2" rx="8.8" ry="8.1"/>
<ellipse class="r" cx="264.0" cy="938.8" rx="8.8" ry="8.1"/>
<ellipse class="r" cx="264.0" cy="950.6" rx="8.8" ry="8.1"/>
<ellipse class="r" cx="264.0" cy="974.0" rx="8.8" ry="8.1"/>
<ellipse class="r" cx="284.7" cy="916.6" rx="8.8" ry="8.1"/>
<ellipse class="r" cx="284.7" cy="951.9" rx="8.8" ry="8.1"/>
<ellipse class="r" cx="284.7" cy="974.0" rx="8.8" ry="8.1"/>
<ellipse class="r" cx="305.4" cy="895.0" rx="8.8" ry="8.1"/>
<ellipse class="r" cx="305.4" cy="911.4" rx="8.8" ry="8.1"/>
<ellipse class="r" cx="305.4" cy="925.8" rx="8.8" ry="8.1"/>
<ellipse class="r" cx="305.4" cy="949.3" rx="8.8" ry="8.1"/>
<ellipse class="r" cx="305.4" cy="962.3" rx="8.8" ry="8.1"/>
<ellipse class="r" cx="305.4" cy="975.4" rx="8.8" ry="8.1"/>
<ellipse class="r" cx="326.1" cy="902.3" rx="8.8" ry="8.1"/>
<ellipse class="r" cx="326.1" cy="919.2" rx="8.8" ry="8.1"/>
<ellipse class="r" cx="326.1" cy="938.8" rx="8.8" ry="8.1"/>
<ellipse class="r" cx="326.1" cy="957.1" rx="8.8" ry="8.1"/>
<ellipse class="r" cx="326.1" cy="975.9" rx="8.8" ry="8.1"/>
<ellipse class="r" cx="346.7" cy="894.4" rx="8.8" ry="8.1"/>
<ellipse class="r" cx="346.7" cy="908.0" rx="8.8" ry="8.1"/>
<ellipse class="r" cx="346.7" cy="926.0" rx="8.8" ry="8.1"/>
<ellipse class="r" cx="346.7" cy="942.0" rx="8.8" ry="8.1"/>
<ellipse class="r" cx="346.7" cy="962.0" rx="8.8" ry="8.1"/>
<ellipse class="r" cx="346.7" cy="972.5" rx="8.8" ry="8.1"/>
<ellipse class="r" cx="367.4" cy="902.3" rx="8.8" ry="8.1"/>
<ellipse class="r" cx="367.4" cy="915.3" rx="8.8" ry="8.1"/>
<ellipse class="r" cx="367.4" cy="937.3" rx="8.8" ry="8.1"/>
<ellipse class="r" cx="367.4" cy="950.3" rx="8.8" ry="8.1"/>
<ellipse class="r" cx="367.4" cy="977.5" rx="8.8" ry="8.1"/>
<ellipse class="r" cx="388.1" cy="912.7" rx="8.8" ry="8.1"/>
<ellipse class="r" cx="388.1" cy="925.7" rx="8.8" ry="8.1"/>
<ellipse class="r" cx="388.1" cy="947.7" rx="8.8" ry="8.1"/>
<ellipse class="r" cx="388.1" cy="963.7" rx="8.8" ry="8.1"/>
<ellipse class="r" cx="388.1" cy="972.5" rx="8.8" ry="8.1"/>
<ellipse class="r" cx="408.7" cy="914.0" rx="8.8" ry="8.1"/>
<ellipse class="r" cx="408.7" cy="934.0" rx="8.8" ry="8.1"/>
<ellipse class="r" cx="408.7" cy="954.0" rx="8.8" ry="8.1"/>
<ellipse class="r" cx="408.7" cy="974.5" rx="8.8" ry="8.1"/>
<ellipse class="r" cx="429.4" cy="894.4" rx="8.8" ry="8.1"/>
<ellipse class="r" cx="429.4" cy="906.2" rx="8.8" ry="8.1"/>
<ellipse class="r" cx="429.4" cy="919.2" rx="8.8" ry="8.1"/>
<ellipse class="r" cx="429.4" cy="941.2" rx="8.8" ry="8.1"/>
<ellipse class="r" cx="429.4" cy="961.2" rx="8.8" ry="8.1"/>
<ellipse class="r" cx="429.4" cy="977.5" rx="8.8" ry="8.1"/>
<ellipse class="r" cx="450.1" cy="865.7" rx="8.8" ry="8.1"/>
<ellipse class="r" cx="450.1" cy="907.5" rx="8.8" ry="8.1"/>
<ellipse class="r" cx="450.1" cy="920.5" rx="8.8" ry="8.1"/>
<ellipse class="r" cx="450.1" cy="936.5" rx="8.8" ry="8.1"/>
<ellipse class="r" cx="450.1" cy="960.5" rx="8.8" ry="8.1"/>
<ellipse class="r" cx="450.1" cy="977.5" rx="8.8" ry="8.1"/>
<ellipse class="r" cx="470.7" cy="897.0" rx="8.8" ry="8.1"/>
<ellipse class="r" cx="470.7" cy="910.0" rx="8.8" ry="8.1"/>
<ellipse class="r" cx="470.7" cy="923.0" rx="8.8" ry="8.1"/>
<ellipse class="r" cx="470.7" cy="945.0" rx="8.8" ry="8.1"/>
<ellipse class="r" cx="470.7" cy="976.5" rx="8.8" ry="8.1"/>
<ellipse class="r" cx="491.4" cy="878.8" rx="8.8" ry="8.1"/>
<ellipse class="r" cx="491.4" cy="891.8" rx="8.8" ry="8.1"/>
<ellipse class="r" cx="491.4" cy="907.8" rx="8.8" ry="8.1"/>
<ellipse class="r" cx="491.4" cy="920.8" rx="8.8" ry="8.1"/>
<ellipse class="r" cx="491.4" cy="942.8" rx="8.8" ry="8.1"/>
<ellipse class="r" cx="491.4" cy="958.8" rx="8.8" ry="8.1"/>
<ellipse class="r" cx="491.4" cy="976.5" rx="8.8" ry="8.1"/>
<ellipse class="r" cx="512.1" cy="889.2" rx="8.8" ry="8.1"/>
<ellipse class="r" cx="512.1" cy="902.3" rx="8.8" ry="8.1"/>
<ellipse class="r" cx="512.1" cy="918.3" rx="8.8" ry="8.1"/>
<ellipse class="r" cx="512.1" cy="940.3" rx="8.8" ry="8.1"/>
<ellipse class="r" cx="512.1" cy="953.3" rx="8.8" ry="8.1"/>
<ellipse class="r" cx="512.1" cy="975.5" rx="8.8" ry="8.1"/>
<ellipse class="r" cx="532.8" cy="890.5" rx="8.8" ry="8.1"/>
<ellipse class="r" cx="532.8" cy="902.3" rx="8.8" ry="8.1"/>
<ellipse class="r" cx="532.8" cy="924.3" rx="8.8" ry="8.1"/>
<ellipse class="r" cx="532.8" cy="948.3" rx="8.8" ry="8.1"/>
<ellipse class="r" cx="532.8" cy="964.3" rx="8.8" ry="8.1"/>
<ellipse class="r" cx="532.8" cy="977.5" rx="8.8" ry="8.1"/>
<ellipse class="r" cx="553.4" cy="873.5" rx="8.8" ry="8.1"/>
<ellipse class="r" cx="553.4" cy="895.5" rx="8.8" ry="8.1"/>
<ellipse class="r" cx="553.4" cy="919.5" rx="8.8" ry="8.1"/>
<ellipse class="r" cx="553.4" cy="935.5" rx="8.8" ry="8.1"/>
<ellipse class="r" cx="553.4" cy="953.5" rx="8.8" ry="8.1"/>
<ellipse class="r" cx="553.4" cy="966.5" rx="8.8" ry="8.1"/>
<ellipse class="r" cx="553.4" cy="972.5" rx="8.8" ry="8.1"/>
<ellipse class="r" cx="574.1" cy="911.0" rx="8.8" ry="8.1"/>
<ellipse class="r" cx="574.1" cy="933.0" rx="8.8" ry="8.1"/>
<ellipse class="r" cx="574.1" cy="946.0" rx="8.8" ry="8.1"/>
<ellipse class="r" cx="574.1" cy="974.5" rx="8.8" ry="8.1"/>
<ellipse class="r" cx="594.8" cy="894.4" rx="8.8" ry="8.1"/>
<ellipse class="r" cx="594.8" cy="914.4" rx="8.8" ry="8.1"/>
<ellipse class="r" cx="594.8" cy="938.4" rx="8.8" ry="8.1"/>
<ellipse class="r" cx="594.8" cy="960.4" rx="8.8" ry="8.1"/>
<ellipse class="r" cx="594.8" cy="975.5" rx="8.8" ry="8.1"/>
<ellipse class="r" cx="615.4" cy="874.0" rx="8.8" ry="8.1"/>
<ellipse class="r" cx="615.4" cy="910.0" rx="8.8" ry="8.1"/>
<ellipse class="r" cx="615.4" cy="923.7" rx="8.8" ry="8.1"/>
<ellipse class="r" cx="615.4" cy="943.7" rx="8.8" ry="8.1"/>
<ellipse class="r" cx="615.4" cy="965.7" rx="8.8" ry="8.1"/>
<ellipse class="r" cx="615.4" cy="975.5" rx="8.8" ry="8.1"/>
<ellipse class="r" cx="636.1" cy="893.1" rx="8.8" ry="8.1"/>
<ellipse class="r" cx="636.1" cy="906.2" rx="8.8" ry="8.1"/>
<ellipse class="r" cx="636.1" cy="924.2" rx="8.8" ry="8.1"/>
<ellipse class="r" cx="636.1" cy="940.2" rx="8.8" ry="8.1"/>
<ellipse class="r" cx="636.1" cy="956.2" rx="8.8" ry="8.1"/>
<ellipse class="r" cx="636.1" cy="974.5" rx="8.8" ry="8.1"/>
<ellipse class="r" cx="656.8" cy="904.9" rx="8.8" ry="8.1"/>
<ellipse class="r" cx="656.8" cy="917.9" rx="8.8" ry="8.1"/>
<ellipse class="r" cx="656.8" cy="939.9" rx="8.8" ry="8.1"/>
<ellipse class="r" cx="656.8" cy="957.9" rx="8.8" ry="8.1"/>
<ellipse class="r" cx="656.8" cy="976.5" rx="8.8" ry="8.1"/>
<ellipse class="r" cx="677.4" cy="907.0" rx="8.8" ry="8.1"/>
<ellipse class="r" cx="677.4" cy="925.0" rx="8.8" ry="8.1"/>
<ellipse class="r" cx="677.4" cy="949.0" rx="8.8" ry="8.1"/>
<ellipse class="r" cx="677.4" cy="975.5" rx="8.8" ry="8.1"/>
<ellipse class="r" cx="698.1" cy="918.0" rx="8.8" ry="8.1"/>
<ellipse class="r" cx="698.1" cy="930.5" rx="8.8" ry="8.1"/>
<ellipse class="r" cx="698.1" cy="952.5" rx="8.8" ry="8.1"/>
<ellipse class="r" cx="698.1" cy="965.5" rx="8.8" ry="8.1"/>
<ellipse class="r" cx="698.1" cy="977.5" rx="8.8" ry="8.1"/>
<ellipse class="r" cx="718.8" cy="941.4" rx="8.8" ry="8.1"/>
<ellipse class="r" cx="718.8" cy="955.0" rx="8.8" ry="8.1"/>
<ellipse class="r" cx="718.8" cy="975.0" rx="8.8" ry="8.1"/>
<ellipse class="r" cx="739.5" cy="938.8" rx="8.8" ry="8.1"/>
<ellipse class="r" cx="739.5" cy="954.0" rx="8.8" ry="8.1"/>
<ellipse class="r" cx="739.5" cy="975.0" rx="8.8" ry="8.1"/>
<ellipse class="r" cx="760.1" cy="920.5" rx="8.8" ry="8.1"/>
<ellipse class="r" cx="760.1" cy="940.5" rx="8.8" ry="8.1"/>
<ellipse class="r" cx="760.1" cy="956.5" rx="8.8" ry="8.1"/>
<ellipse class="r" cx="760.1" cy="974.5" rx="8.8" ry="8.1"/>
<ellipse class="r" cx="780.8" cy="913.2" rx="8.8" ry="8.1"/>
<ellipse class="r" cx="780.8" cy="933.2" rx="8.8" ry="8.1"/>
<ellipse class="r" cx="780.8" cy="953.2" rx="8.8" ry="8.1"/>
<ellipse class="r" cx="780.8" cy="966.2" rx="8.8" ry="8.1"/>
<ellipse class="r" cx="780.8" cy="972.5" rx="8.8" ry="8.1"/>
<ellipse class="r" cx="801.5" cy="893.1" rx="8.8" ry="8.1"/>
<ellipse class="r" cx="801.5" cy="915.1" rx="8.8" ry="8.1"/>
<ellipse class="r" cx="801.5" cy="937.1" rx="8.8" ry="8.1"/>
<ellipse class="r" cx="801.5" cy="955.1" rx="8.8" ry="8.1"/>
<ellipse class="r" cx="801.5" cy="975.5" rx="8.8" ry="8.1"/>
<ellipse class="r" cx="822.1" cy="899.7" rx="8.8" ry="8.1"/>
<ellipse class="r" cx="822.1" cy="921.7" rx="8.8" ry="8.1"/>
<ellipse class="r" cx="822.1" cy="941.7" rx="8.8" ry="8.1"/>
<ellipse class="r" cx="822.1" cy="963.7" rx="8.8" ry="8.1"/>
<ellipse class="r" cx="822.1" cy="972.5" rx="8.8" ry="8.1"/>
<ellipse class="r" cx="842.8" cy="898.4" rx="8.8" ry="8.1"/>
<ellipse class="r" cx="842.8" cy="911.4" rx="8.8" ry="8.1"/>
<ellipse class="r" cx="842.8" cy="929.4" rx="8.8" ry="8.1"/>
<ellipse class="r" cx="842.8" cy="949.4" rx="8.8" ry="8.1"/>
<ellipse class="r" cx="842.8" cy="972.5" rx="8.8" ry="8.1"/>
<ellipse class="r" cx="863.5" cy="899.7" rx="8.8" ry="8.1"/>
<ellipse class="r" cx="863.5" cy="912.7" rx="8.8" ry="8.1"/>
<ellipse class="r" cx="863.5" cy="936.7" rx="8.8" ry="8.1"/>
<ellipse class="r" cx="863.5" cy="960.7" rx="8.8" ry="8.1"/>
<ellipse class="r" cx="863.5" cy="977.5" rx="8.8" ry="8.1"/>
<ellipse class="r" cx="884.1" cy="918.0" rx="8.8" ry="8.1"/>
<ellipse class="r" cx="884.1" cy="942.0" rx="8.8" ry="8.1"/>
<ellipse class="r" cx="884.1" cy="962.0" rx="8.8" ry="8.1"/>
<ellipse class="r" cx="884.1" cy="976.5" rx="8.8" ry="8.1"/>
<ellipse class="r" cx="904.8" cy="871.5" rx="8.8" ry="8.1"/>
<ellipse class="r" cx="904.8" cy="894.4" rx="8.8" ry="8.1"/>
<ellipse class="r" cx="904.8" cy="918.4" rx="8.8" ry="8.1"/>
<ellipse class="r" cx="904.8" cy="936.4" rx="8.8" ry="8.1"/>
<ellipse class="r" cx="904.8" cy="949.4" rx="8.8" ry="8.1"/>
<ellipse class="r" cx="904.8" cy="975.5" rx="8.8" ry="8.1"/>
<ellipse class="r" cx="925.5" cy="873.5" rx="8.8" ry="8.1"/>
<ellipse class="r" cx="925.5" cy="889.5" rx="8.8" ry="8.1"/>
<ellipse class="r" cx="925.5" cy="911.5" rx="8.8" ry="8.1"/>
<ellipse class="r" cx="925.5" cy="924.5" rx="8.8" ry="8.1"/>
<ellipse class="r" cx="925.5" cy="944.5" rx="8.8" ry="8.1"/>
<ellipse class="r" cx="925.5" cy="957.5" rx="8.8" ry="8.1"/>
<ellipse class="r" cx="925.5" cy="975.5" rx="8.8" ry="8.1"/>
<ellipse class="r" cx="946.2" cy="898.4" rx="8.8" ry="8.1"/>
<ellipse class="r" cx="946.2" cy="914.4" rx="8.8" ry="8.1"/>
<ellipse class="r" cx="946.2" cy="938.4" rx="8.8" ry="8.1"/>
<ellipse class="r" cx="946.2" cy="954.4" rx="8.8" ry="8.1"/>
<ellipse class="r" cx="946.2" cy="976.5" rx="8.8" ry="8.1"/>
<ellipse class="r" cx="966.8" cy="890.0" rx="8.8" ry="8.1"/>
<ellipse class="r" cx="966.8" cy="910.0" rx="8.8" ry="8.1"/>
<ellipse class="r" cx="966.8" cy="923.0" rx="8.8" ry="8.1"/>
<ellipse class="r" cx="966.8" cy="939.0" rx="8.8" ry="8.1"/>
<ellipse class="r" cx="966.8" cy="959.0" rx="8.8" ry="8.1"/>
<ellipse class="r" cx="966.8" cy="977.5" rx="8.8" ry="8.1"/>
<ellipse class="r" cx="987.5" cy="860.0" rx="8.8" ry="8.1"/>
<ellipse class="r" cx="987.5" cy="900.0" rx="8.8" ry="8.1"/>
<ellipse class="r" cx="987.5" cy="920.5" rx="8.8" ry="8.1"/>
<ellipse class="r" cx="987.5" cy="946.0" rx="8.8" ry="8.1"/>
<ellipse class="r" cx="987.5" cy="975.0" rx="8.8" ry="8.1"/>
<ellipse class="r" cx="1008.2" cy="878.3" rx="8.8" ry="8.1"/>
<ellipse class="r" cx="1008.2" cy="893.1" rx="8.8" ry="8.1"/>
<ellipse class="r" cx="1008.2" cy="911.1" rx="8.8" ry="8.1"/>
<ellipse class="r" cx="1008.2" cy="927.1" rx="8.8" ry="8.1"/>
<ellipse class="r" cx="1008.2" cy="947.1" rx="8.8" ry="8.1"/>
<ellipse class="r" cx="1008.2" cy="975.5" rx="8.8" ry="8.1"/>
<ellipse class="r" cx="1028.8" cy="873.5" rx="8.8" ry="8.1"/>
<ellipse class="r" cx="1028.8" cy="886.6" rx="8.8" ry="8.1"/>
<ellipse class="r" cx="1028.8" cy="915.8" rx="8.8" ry="8.1"/>
<ellipse class="r" cx="1028.8" cy="939.8" rx="8.8" ry="8.1"/>
<ellipse class="r" cx="1028.8" cy="959.8" rx="8.8" ry="8.1"/>
<ellipse class="r" cx="1028.8" cy="976.5" rx="8.8" ry="8.1"/>
<ellipse class="r" cx="1049.5" cy="881.4" rx="8.8" ry="8.1"/>
<ellipse class="r" cx="1049.5" cy="897.4" rx="8.8" ry="8.1"/>
<ellipse class="r" cx="1049.5" cy="913.4" rx="8.8" ry="8.1"/>
<ellipse class="r" cx="1049.5" cy="926.4" rx="8.8" ry="8.1"/>
<ellipse class="r" cx="1049.5" cy="942.4" rx="8.8" ry="8.1"/>
<ellipse class="r" cx="1049.5" cy="958.4" rx="8.8" ry="8.1"/>
<ellipse class="r" cx="1049.5" cy="974.5" rx="8.8" ry="8.1"/>
<ellipse class="r" cx="1070.2" cy="896.5" rx="8.8" ry="8.1"/>
<ellipse class="r" cx="1070.2" cy="909.5" rx="8.8" ry="8.1"/>
<ellipse class="r" cx="1070.2" cy="929.5" rx="8.8" ry="8.1"/>
<ellipse class="r" cx="1070.2" cy="951.5" rx="8.8" ry="8.1"/>
<ellipse class="r" cx="1070.2" cy="975.5" rx="8.8" ry="8.1"/>
<ellipse class="r" cx="1090.8" cy="928.4" rx="8.8" ry="8.1"/>
<ellipse class="r" cx="1090.8" cy="943.0" rx="8.8" ry="8.1"/>
<ellipse class="r" cx="1090.8" cy="958.0" rx="8.8" ry="8.1"/>
<ellipse class="r" cx="1090.8" cy="971.0" rx="8.8" ry="8.1"/>
<ellipse class="r" cx="1111.5" cy="896.5" rx="8.8" ry="8.1"/>
<ellipse class="r" cx="1111.5" cy="914.5" rx="8.8" ry="8.1"/>
<ellipse class="r" cx="1111.5" cy="927.5" rx="8.8" ry="8.1"/>
<ellipse class="r" cx="1111.5" cy="943.5" rx="8.8" ry="8.1"/>
<ellipse class="r" cx="1111.5" cy="963.5" rx="8.8" ry="8.1"/>
<ellipse class="r" cx="1111.5" cy="975.5" rx="8.8" ry="8.1"/>
<ellipse class="r" cx="1132.2" cy="902.3" rx="8.8" ry="8.1"/>
<ellipse class="r" cx="1132.2" cy="924.3" rx="8.8" ry="8.1"/>
<ellipse class="r" cx="1132.2" cy="946.3" rx="8.8" ry="8.1"/>
<ellipse class="r" cx="1132.2" cy="964.3" rx="8.8" ry="8.1"/>
<ellipse class="r" cx="1132.2" cy="977.5" rx="8.8" ry="8.1"/>
<ellipse class="r" cx="1152.9" cy="904.9" rx="8.8" ry="8.1"/>
<ellipse class="r" cx="1152.9" cy="926.9" rx="8.8" ry="8.1"/>
<ellipse class="r" cx="1152.9" cy="950.9" rx="8.8" ry="8.1"/>
<ellipse class="r" cx="1152.9" cy="972.5" rx="8.8" ry="8.1"/>
<ellipse class="r" cx="1173.5" cy="895.2" rx="8.8" ry="8.1"/>
<ellipse class="r" cx="1173.5" cy="915.2" rx="8.8" ry="8.1"/>
<ellipse class="r" cx="1173.5" cy="939.2" rx="8.8" ry="8.1"/>
<ellipse class="r" cx="1173.5" cy="961.2" rx="8.8" ry="8.1"/>
<ellipse class="r" cx="1173.5" cy="976.5" rx="8.8" ry="8.1"/>
<ellipse class="r" cx="1194.2" cy="919.8" rx="8.8" ry="8.1"/>
<ellipse class="r" cx="1194.2" cy="939.8" rx="8.8" ry="8.1"/>
<ellipse class="r" cx="1194.2" cy="963.0" rx="8.8" ry="8.1"/>
<ellipse class="r" cx="1214.9" cy="946.7" rx="8.8" ry="8.1"/>
<ellipse class="r" cx="1214.9" cy="968.9" rx="8.8" ry="8.1"/>
<ellipse class="r" cx="243.4" cy="1017.1" rx="8.8" ry="8.1"/>
<ellipse class="r" cx="243.4" cy="1077.5" rx="8.8" ry="8.1"/>
<ellipse class="r" cx="243.4" cy="1140.0" rx="8.8" ry="8.1"/>
<ellipse class="r" cx="243.4" cy="1159.7" rx="8.8" ry="8.1"/>
<ellipse class="r" cx="243.4" cy="1180.4" rx="8.8" ry="8.1"/>
<ellipse class="r" cx="264.0" cy="1017.0" rx="8.8" ry="8.1"/>
<ellipse class="r" cx="264.0" cy="1048.4" rx="8.8" ry="8.1"/>
<ellipse class="r" cx="264.0" cy="1101.2" rx="8.8" ry="8.1"/>
<ellipse class="r" cx="264.0" cy="1162.0" rx="8.8" ry="8.1"/>
<ellipse class="r" cx="284.7" cy="1093.7" rx="8.8" ry="8.1"/>
<ellipse class="r" cx="305.4" cy="1027.7" rx="8.8" ry="8.1"/>
<ellipse class="r" cx="305.4" cy="1056.0" rx="8.8" ry="8.1"/>
<ellipse class="r" cx="305.4" cy="1240.7" rx="8.8" ry="8.1"/>
<ellipse class="r" cx="346.7" cy="1021.7" rx="8.8" ry="8.1"/>
<ellipse class="r" cx="367.4" cy="1024.7" rx="8.8" ry="8.1"/>
<ellipse class="r" cx="367.4" cy="1042.0" rx="8.8" ry="8.1"/>
<ellipse class="r" cx="388.1" cy="1313.5" rx="8.8" ry="8.1"/>
<ellipse class="r" cx="408.7" cy="1016.4" rx="8.8" ry="8.1"/>
<ellipse class="r" cx="408.7" cy="1077.5" rx="8.8" ry="8.1"/>
<ellipse class="r" cx="429.4" cy="1032.6" rx="8.8" ry="8.1"/>
<ellipse class="r" cx="450.1" cy="1109.0" rx="8.8" ry="8.1"/>
<ellipse class="r" cx="491.4" cy="1024.0" rx="8.8" ry="8.1"/>
<ellipse class="r" cx="491.4" cy="1047.7" rx="8.8" ry="8.1"/>
<ellipse class="r" cx="491.4" cy="1103.0" rx="8.8" ry="8.1"/>
<ellipse class="r" cx="532.8" cy="1068.0" rx="8.8" ry="8.1"/>
<ellipse class="r" cx="594.8" cy="1013.4" rx="8.8" ry="8.1"/>
<ellipse class="r" cx="594.8" cy="1052.2" rx="8.8" ry="8.1"/>
<ellipse class="r" cx="677.4" cy="1020.0" rx="8.8" ry="8.1"/>
<ellipse class="r" cx="677.4" cy="1050.3" rx="8.8" ry="8.1"/>
<ellipse class="r" cx="698.1" cy="1011.9" rx="8.8" ry="8.1"/>
<ellipse class="r" cx="698.1" cy="1027.0" rx="8.8" ry="8.1"/>
<ellipse class="r" cx="739.5" cy="1015.6" rx="8.8" ry="8.1"/>
<ellipse class="r" cx="739.5" cy="1033.5" rx="8.8" ry="8.1"/>
<ellipse class="r" cx="739.5" cy="1112.0" rx="8.8" ry="8.1"/>
<ellipse class="r" cx="780.8" cy="1109.0" rx="8.8" ry="8.1"/>
<ellipse class="r" cx="801.5" cy="1014.4" rx="8.8" ry="8.1"/>
<ellipse class="r" cx="842.8" cy="1025.3" rx="8.8" ry="8.1"/>
<ellipse class="r" cx="863.5" cy="1122.0" rx="8.8" ry="8.1"/>
<ellipse class="r" cx="987.5" cy="1046.4" rx="8.8" ry="8.1"/>
<ellipse class="r" cx="1070.2" cy="1196.3" rx="8.8" ry="8.1"/>
<ellipse class="r" cx="1132.2" cy="1050.1" rx="8.8" ry="8.1"/>
<ellipse class="r" cx="1132.2" cy="1090.7" rx="8.8" ry="8.1"/>
<ellipse class="r" cx="1173.5" cy="1015.6" rx="8.8" ry="8.1"/>
<ellipse class="r" cx="1214.9" cy="1086.6" rx="8.8" ry="8.1"/>
<ellipse class="g" cx="1088.0" cy="1332.7" rx="8.8" ry="8.1"/>
<ellipse class="r" cx="1088.0" cy="1402.0" rx="8.8" ry="8.1"/>
<text transform="translate(1139.30,1351.80) scale(1.0780,1.0000)" font-size="57.2" font-weight="bold" text-anchor="start" fill="#000">Ctrl</text>
<text transform="translate(1139.20,1421.80) scale(1.0690,1.0000)" font-size="58" font-weight="bold" text-anchor="start" fill="#000">Dox</text>
<text transform="translate(6.10,1595.60) scale(0.9000,1.0000)" font-size="51.2" font-weight="bold" text-anchor="start" fill="#000">C</text>
<text transform="translate(69.1,1989.6) rotate(-90) scale(1,1.018)" font-size="73.5" font-weight="bold" text-anchor="middle">Cell viability (%)</text>
<line x1="212.00" y1="1697.00" x2="212.00" y2="2311.50" stroke="#000" stroke-width="4" stroke-linecap="butt"/>
<line x1="199.00" y1="2309.50" x2="1372.60" y2="2309.50" stroke="#000" stroke-width="4" stroke-linecap="butt"/>
<line x1="199.00" y1="1698.80" x2="212.00" y2="1698.80" stroke="#000" stroke-width="4" stroke-linecap="butt"/>
<text transform="translate(192.30,1717.80) scale(0.9330,1.0000)" font-size="60" font-weight="bold" text-anchor="end" fill="#000">150</text>
<line x1="199.00" y1="1902.30" x2="212.00" y2="1902.30" stroke="#000" stroke-width="4" stroke-linecap="butt"/>
<text transform="translate(192.30,1921.30) scale(0.9330,1.0000)" font-size="60" font-weight="bold" text-anchor="end" fill="#000">100</text>
<line x1="199.00" y1="2105.80" x2="212.00" y2="2105.80" stroke="#000" stroke-width="4" stroke-linecap="butt"/>
<text transform="translate(192.30,2124.80) scale(0.9330,1.0000)" font-size="60" font-weight="bold" text-anchor="end" fill="#000">50</text>
<line x1="199.00" y1="2309.50" x2="212.00" y2="2309.50" stroke="#000" stroke-width="4" stroke-linecap="butt"/>
<text transform="translate(192.30,2328.50) scale(0.9330,1.0000)" font-size="60" font-weight="bold" text-anchor="end" fill="#000">0</text>
<rect x="262.70" y="1653.10" width="49.30" height="41.10" fill="#fff" stroke="#000" stroke-width="5.4" rx="2"/>
<rect x="262.70" y="1711.90" width="49.30" height="41.10" fill="#000" stroke="#000" stroke-width="5.4" rx="2"/>
<text transform="translate(339.20,1691.60) scale(0.9860,1.0000)" font-size="49" font-weight="bold" text-anchor="start" fill="#000">Ctrl</text>
<text transform="translate(338.60,1749.30) scale(0.9860,1.0000)" font-size="49" font-weight="bold" text-anchor="start" fill="#000">Dox</text>
<path d="M224.45,2309.50V1901.75H241.45V2309.50" fill="#fff" stroke="#000" stroke-width="6.3" stroke-linejoin="round"/>
<rect x="249.0" y="2100.8" width="22.2" height="208.7" rx="1"/>
<line x1="246.70" y1="2309.50" x2="246.70" y2="2322.20" stroke="#000" stroke-width="4" stroke-linecap="butt"/>
<text transform="translate(222.60,1887.50) scale(0.9170,1.0000)" font-size="36.3" font-weight="bold" text-anchor="start" fill="#008000">1</text>
<text transform="translate(256.9,2357.9) rotate(-46) scale(1.0,1)" font-size="33.5" font-weight="bold" text-anchor="end">Ctrl</text>
<path d="M296.11,2309.50V2052.45H313.11V2309.50" fill="#fff" stroke="#000" stroke-width="6.3" stroke-linejoin="round"/>
<rect x="320.7" y="2150.2" width="22.2" height="159.3" rx="1"/>
<line x1="318.36" y1="2309.50" x2="318.36" y2="2322.20" stroke="#000" stroke-width="4" stroke-linecap="butt"/>
<text transform="translate(293.60,2038.30) scale(0.9170,1.0000)" font-size="36.3" font-weight="bold" text-anchor="start" fill="#008000">0.5</text>
<text transform="translate(328.6,2357.9) rotate(-46) scale(1.0,1)" font-size="33.5" font-weight="bold" text-anchor="end">CALM2</text>
<path d="M367.77,2309.50V1998.15H384.77V2309.50" fill="#fff" stroke="#000" stroke-width="6.3" stroke-linejoin="round"/>
<rect x="392.3" y="2157.9" width="22.2" height="151.6" rx="1"/>
<line x1="390.02" y1="2309.50" x2="390.02" y2="2322.20" stroke="#000" stroke-width="4" stroke-linecap="butt"/>
<text transform="translate(364.10,1989.50) scale(0.9170,1.0000)" font-size="36.3" font-weight="bold" text-anchor="start" fill="#008000">0.3</text>
<text transform="translate(400.2,2357.9) rotate(-46) scale(1.0,1)" font-size="33.5" font-weight="bold" text-anchor="end">PKM2</text>
<path d="M439.43,2309.50V1871.75H456.43V2309.50" fill="#fff" stroke="#000" stroke-width="6.3" stroke-linejoin="round"/>
<rect x="464.0" y="2198.6" width="22.2" height="110.9" rx="1"/>
<line x1="461.68" y1="2309.50" x2="461.68" y2="2322.20" stroke="#000" stroke-width="4" stroke-linecap="butt"/>
<text transform="translate(438.40,1863.80) scale(0.9170,1.0000)" font-size="36.3" font-weight="bold" text-anchor="start" fill="#008000">0.2</text>
<text transform="translate(471.9,2357.9) rotate(-46) scale(1.0,1)" font-size="33.5" font-weight="bold" text-anchor="end">PRKCE</text>
<path d="M511.09,2309.50V1980.75H528.09V2309.50" fill="#fff" stroke="#000" stroke-width="6.3" stroke-linejoin="round"/>
<rect x="535.6" y="2166.9" width="22.2" height="142.6" rx="1"/>
<line x1="533.34" y1="2309.50" x2="533.34" y2="2322.20" stroke="#000" stroke-width="4" stroke-linecap="butt"/>
<text transform="translate(511.10,1973.50) scale(0.9170,1.0000)" font-size="36.3" font-weight="bold" text-anchor="start" fill="#008000">0.3</text>
<text transform="translate(543.5,2357.9) rotate(-46) scale(1.0,1)" font-size="33.5" font-weight="bold" text-anchor="end">AURKC</text>
<path d="M582.75,2309.50V1853.15H599.75V2309.50" fill="#fff" stroke="#000" stroke-width="6.3" stroke-linejoin="round"/>
<rect x="607.3" y="2234.6" width="22.2" height="74.9" rx="1"/>
<line x1="605.00" y1="2309.50" x2="605.00" y2="2322.20" stroke="#000" stroke-width="4" stroke-linecap="butt"/>
<text transform="translate(580.30,1848.50) scale(0.9170,1.0000)" font-size="36.3" font-weight="bold" text-anchor="start" fill="#008000">0.5</text>
<text transform="translate(615.2,2357.9) rotate(-46) scale(1.0,1)" font-size="33.5" font-weight="bold" text-anchor="end">MAPK3K7IP</text>
<path d="M654.41,2309.50V1861.35H671.41V2309.50" fill="#fff" stroke="#000" stroke-width="6.3" stroke-linejoin="round"/>
<rect x="679.0" y="2196.3" width="22.2" height="113.2" rx="1"/>
<line x1="676.66" y1="2309.50" x2="676.66" y2="2322.20" stroke="#000" stroke-width="4" stroke-linecap="butt"/>
<text transform="translate(653.60,1848.50) scale(0.9170,1.0000)" font-size="36.3" font-weight="bold" text-anchor="start" fill="#008000">0.3</text>
<text transform="translate(686.9,2357.9) rotate(-46) scale(1.0,1)" font-size="33.5" font-weight="bold" text-anchor="end">CDKL3</text>
<path d="M726.07,2309.50V1957.45H743.07V2309.50" fill="#fff" stroke="#000" stroke-width="6.3" stroke-linejoin="round"/>
<rect x="750.6" y="2212.3" width="22.2" height="97.2" rx="1"/>
<line x1="748.32" y1="2309.50" x2="748.32" y2="2322.20" stroke="#000" stroke-width="4" stroke-linecap="butt"/>
<text transform="translate(726.40,1950.30) scale(0.9170,1.0000)" font-size="36.3" font-weight="bold" text-anchor="start" fill="#008000">0.4</text>
<text transform="translate(758.5,2357.9) rotate(-46) scale(1.0,1)" font-size="33.5" font-weight="bold" text-anchor="end">CLK4</text>
<path d="M797.73,2309.50V1943.45H814.73V2309.50" fill="#fff" stroke="#000" stroke-width="6.3" stroke-linejoin="round"/>
<rect x="822.3" y="2201.9" width="22.2" height="107.6" rx="1"/>
<line x1="819.98" y1="2309.50" x2="819.98" y2="2322.20" stroke="#000" stroke-width="4" stroke-linecap="butt"/>
<text transform="translate(797.10,1935.30) scale(0.9170,1.0000)" font-size="36.3" font-weight="bold" text-anchor="start" fill="#008000">0.3</text>
<text transform="translate(830.2,2357.9) rotate(-46) scale(1.0,1)" font-size="33.5" font-weight="bold" text-anchor="end">TSKS</text>
<path d="M869.39,2309.50V1841.05H886.39V2309.50" fill="#fff" stroke="#000" stroke-width="6.3" stroke-linejoin="round"/>
<rect x="893.9" y="2192.6" width="22.2" height="116.9" rx="1"/>
<line x1="891.64" y1="2309.50" x2="891.64" y2="2322.20" stroke="#000" stroke-width="4" stroke-linecap="butt"/>
<text transform="translate(869.50,1831.90) scale(0.9170,1.0000)" font-size="36.3" font-weight="bold" text-anchor="start" fill="#008000">0.5</text>
<text transform="translate(901.8,2357.9) rotate(-46) scale(1.0,1)" font-size="33.5" font-weight="bold" text-anchor="end">NIM1</text>
<path d="M941.05,2309.50V1974.15H958.05V2309.50" fill="#fff" stroke="#000" stroke-width="6.3" stroke-linejoin="round"/>
<rect x="965.6" y="2188.6" width="22.2" height="120.9" rx="1"/>
<line x1="963.30" y1="2309.50" x2="963.30" y2="2322.20" stroke="#000" stroke-width="4" stroke-linecap="butt"/>
<text transform="translate(938.30,1968.50) scale(0.9170,1.0000)" font-size="36.3" font-weight="bold" text-anchor="start" fill="#008000">0.5</text>
<text transform="translate(973.5,2357.9) rotate(-46) scale(1.0,1)" font-size="33.5" font-weight="bold" text-anchor="end">HIPK1</text>
<path d="M1012.71,2309.50V1957.45H1029.71V2309.50" fill="#fff" stroke="#000" stroke-width="6.3" stroke-linejoin="round"/>
<rect x="1037.3" y="2202.6" width="22.2" height="106.9" rx="1"/>
<line x1="1034.96" y1="2309.50" x2="1034.96" y2="2322.20" stroke="#000" stroke-width="4" stroke-linecap="butt"/>
<text transform="translate(1013.60,1950.30) scale(0.9170,1.0000)" font-size="36.3" font-weight="bold" text-anchor="start" fill="#008000">0.4</text>
<text transform="translate(1045.2,2357.9) rotate(-46) scale(1.0,1)" font-size="33.5" font-weight="bold" text-anchor="end">ABL2</text>
<path d="M1084.37,2309.50V2082.55H1101.37V2309.50" fill="#fff" stroke="#000" stroke-width="6.3" stroke-linejoin="round"/>
<rect x="1108.9" y="2230.3" width="22.2" height="79.2" rx="1"/>
<line x1="1106.62" y1="2309.50" x2="1106.62" y2="2322.20" stroke="#000" stroke-width="4" stroke-linecap="butt"/>
<text transform="translate(1083.60,2077.00) scale(0.9170,1.0000)" font-size="36.3" font-weight="bold" text-anchor="start" fill="#008000">0.3</text>
<text transform="translate(1116.8,2357.9) rotate(-46) scale(1.0,1)" font-size="33.5" font-weight="bold" text-anchor="end">CSK</text>
<path d="M1156.03,2309.50V1899.05H1173.03V2309.50" fill="#fff" stroke="#000" stroke-width="6.3" stroke-linejoin="round"/>
<rect x="1180.6" y="2188.6" width="22.2" height="120.9" rx="1"/>
<line x1="1178.28" y1="2309.50" x2="1178.28" y2="2322.20" stroke="#000" stroke-width="4" stroke-linecap="butt"/>
<text transform="translate(1154.40,1893.50) scale(0.9170,1.0000)" font-size="36.3" font-weight="bold" text-anchor="start" fill="#008000">0.5</text>
<text transform="translate(1188.5,2357.9) rotate(-46) scale(1.0,1)" font-size="33.5" font-weight="bold" text-anchor="end">PTK2B</text>
<path d="M1227.69,2309.50V2028.55H1244.69V2309.50" fill="#fff" stroke="#000" stroke-width="6.3" stroke-linejoin="round"/>
<rect x="1252.2" y="2242.0" width="22.2" height="67.5" rx="1"/>
<line x1="1249.94" y1="2309.50" x2="1249.94" y2="2322.20" stroke="#000" stroke-width="4" stroke-linecap="butt"/>
<text transform="translate(1227.10,2020.30) scale(0.9170,1.0000)" font-size="36.3" font-weight="bold" text-anchor="start" fill="#008000">0.3</text>
<text transform="translate(1260.1,2357.9) rotate(-46) scale(1.0,1)" font-size="33.5" font-weight="bold" text-anchor="end">ROS1</text>
<path d="M1299.35,2309.50V2107.55H1316.35V2309.50" fill="#fff" stroke="#000" stroke-width="6.3" stroke-linejoin="round"/>
<rect x="1323.9" y="2257.7" width="22.2" height="51.8" rx="1"/>
<line x1="1321.60" y1="2309.50" x2="1321.60" y2="2322.20" stroke="#000" stroke-width="4" stroke-linecap="butt"/>
<text transform="translate(1297.90,2100.40) scale(0.9170,1.0000)" font-size="36.3" font-weight="bold" text-anchor="start" fill="#008000">0.3</text>
<text transform="translate(1331.8,2357.9) rotate(-46) scale(1.0,1)" font-size="33.5" font-weight="bold" text-anchor="end">Src</text>
<line x1="199.00" y1="2309.50" x2="1372.60" y2="2309.50" stroke="#000" stroke-width="4" stroke-linecap="butt"/>
</svg>
</body></html>
